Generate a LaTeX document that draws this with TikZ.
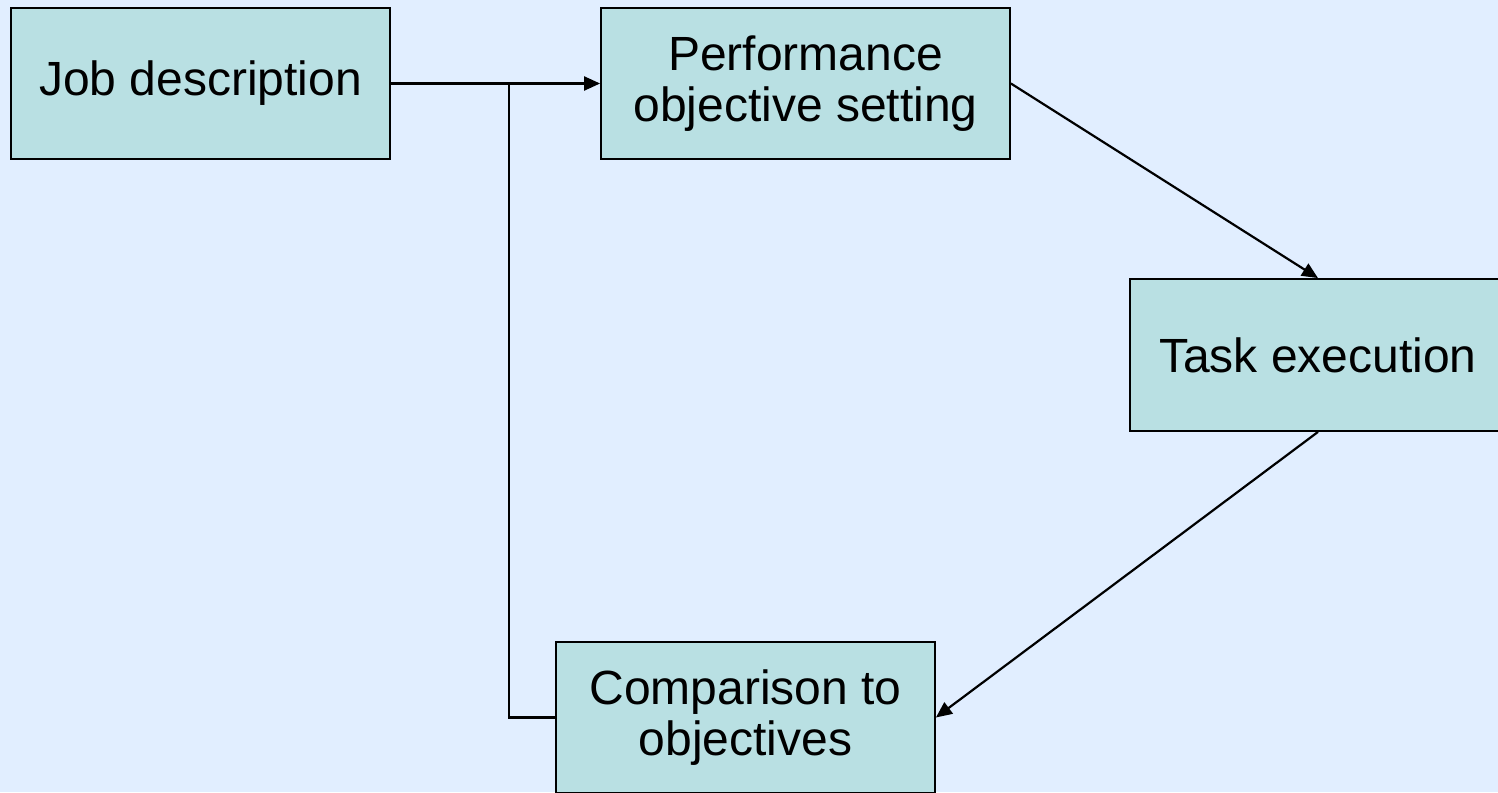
\documentclass[tikz,border=0pt]{standalone}
\usepackage{fontspec}
\setmainfont{Liberation Sans}
\usetikzlibrary{arrows.meta}
\definecolor{bgblue}{HTML}{E1EEFF}
\definecolor{boxfill}{HTML}{B9E0E3}
\begin{document}
\begin{tikzpicture}[x=0.5pt,y=-0.5pt,
  box/.style={draw=black, line width=0.9pt, fill=boxfill, align=center,
    inner sep=0pt, font=\fontsize{24}{25.5}\selectfont},
  link/.style={draw=black, line width=1.1pt},
  arr/.style={link, -{Triangle[length=8pt,width=7pt]}}]
  \useasboundingbox (0,0) rectangle (1498,792);
  \fill[bgblue] (0,0) rectangle (1498,792);
  \clip (0,0) rectangle (1498,792);
  % process boxes
  \node[box, minimum width=189.5pt, minimum height=75.5pt] (jd) at (200.5,83.5) {Job description};
  \node[box, minimum width=204.5pt, minimum height=75.5pt] (pos) at (805.5,83.5) {Performance\\objective setting};
  \node[box, minimum width=188pt, minimum height=76pt] (te) at (1318,355) {Task execution};
  \node[box, minimum width=189.5pt, minimum height=75.5pt] (co) at (745.5,717.5) {Comparison to\\objectives};
  % feedback junction on the first link
  \coordinate (j) at (509,83.5);
  % connectors
  \draw[arr] (jd.east) -- (pos.west);
  \draw[arr] (pos.east) -- (te.north);
  \draw[arr] (te.south) -- (co.east);
  \draw[link] (co.west) -| (j);
\end{tikzpicture}
\end{document}
